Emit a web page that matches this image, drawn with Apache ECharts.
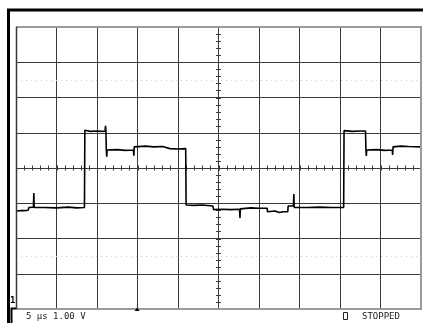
<!DOCTYPE html>
<html>
<head>
<meta charset="utf-8">
<script src="https://cdn.jsdelivr.net/npm/echarts@6/dist/echarts.min.js"></script>
<style>
  html, body { margin: 0; padding: 0; background: #fff; }
  #scope { width: 423px; height: 323px; }
</style>
</head>
<body>
<div id="scope"></div>
<script>
// Horizontal scale: 5 µs per division, 10 divisions
const timeTicks = [-25, -20, -15, -10, -5, 0, 5, 10, 15, 20, 25];
// Vertical scale: 1.00 V per division, 8 divisions
const voltTicks = [-4, -3, -2, -1, 0, 1, 2, 3, 4];
// Dotted reference levels (V)
const refLevels = [2.5, -2.5];
// Channel 1 acquisition: [time µs, volts]
const channel1 = [
  [-25.0, -1.22], [-24.4, -1.21], [-24.2, -1.16], [-24.0, -1.21], [-23.5, -1.20],
  [-23.4, -1.12], [-22.85, -1.11], [-22.8, -0.71], [-22.75, -1.12],
  [-21.5, -1.12], [-20.0, -1.13], [-18.5, -1.11], [-17.5, -1.13], [-16.55, -1.12],
  [-16.5, 1.07], [-15.8, 1.04], [-15.0, 1.05], [-14.3, 1.04], [-14.0, 1.05],
  [-13.95, 1.20], [-13.9, 1.05],
  [-13.85, 0.51], [-13.8, 0.32], [-13.75, 0.51],
  [-12.5, 0.52], [-11.5, 0.50], [-10.5, 0.51], [-10.45, 0.35], [-10.4, 0.60],
  [-9.0, 0.62], [-8.0, 0.60], [-6.9, 0.61], [-6.85, 0.56],
  [-6.0, 0.55], [-5.0, 0.54], [-4.05, 0.55],
  [-4.0, -1.05], [-3.0, -1.06], [-2.0, -1.05], [-0.7, -1.08],
  [-0.6, -1.18], [0.5, -1.17], [1.5, -1.18], [2.6, -1.17], [2.65, -1.42], [2.7, -1.16],
  [4.0, -1.13], [5.0, -1.14], [6.0, -1.14],
  [6.05, -1.24], [7.0, -1.22], [7.5, -1.26], [8.0, -1.24], [8.55, -1.24],
  [8.6, -1.08], [9.25, -1.08], [9.3, -0.74], [9.35, -1.12],
  [11.0, -1.12], [12.5, -1.11], [14.0, -1.12], [15.45, -1.12],
  [15.5, 1.06], [16.5, 1.04], [17.5, 1.05], [18.15, 1.05],
  [18.2, 0.51], [18.25, 0.34], [18.3, 0.51],
  [19.5, 0.52], [20.5, 0.50], [21.45, 0.51], [21.5, 0.37], [21.55, 0.60],
  [22.5, 0.62], [23.5, 0.61], [25.0, 0.60]
];
const timebaseText = '5 \u00b5s 1.00 V';
const statusText = 'STOPPED';
const channelMark = '1';

// Minor graticule ticks on the centre cross: 5 per division
const minorX = [];
for (let i = 0; i <= 50; i++) minorX.push([timeTicks[0] + i * 1]);
const minorY = [];
for (let i = 0; i <= 40; i++) minorY.push([voltTicks[0] + i * 0.2]);

const GRID_DARK = '#3a3a3a';
const chart = echarts.init(document.getElementById('scope'), null, { renderer: 'canvas' });

chart.setOption({
  backgroundColor: '#ffffff',
  animation: false,
  grid: { left: 16, right: 2, top: 27, bottom: 14, show: false },
  xAxis: {
    type: 'value', min: timeTicks[0], max: timeTicks[timeTicks.length - 1], interval: 5,
    axisLine: { show: false }, axisTick: { show: false }, axisLabel: { show: false },
    splitLine: { show: true, lineStyle: { color: GRID_DARK, width: 1 } }
  },
  yAxis: {
    type: 'value', min: voltTicks[0], max: voltTicks[voltTicks.length - 1], interval: 1,
    axisLine: { show: false }, axisTick: { show: false }, axisLabel: { show: false },
    splitLine: { show: true, lineStyle: { color: GRID_DARK, width: 1 } }
  },
  series: [
    {
      type: 'custom', data: minorX, silent: true, z: 3,
      renderItem: function (params, api) {
        const p = api.coord([api.value(0), 0]);
        const x = Math.round(p[0]) + 0.5;
        return { type: 'line', shape: { x1: x, y1: p[1] - 2.5, x2: x, y2: p[1] + 2.5 },
                 style: { stroke: GRID_DARK, lineWidth: 1 } };
      }
    },
    {
      type: 'custom', data: minorY, silent: true, z: 3,
      renderItem: function (params, api) {
        const p = api.coord([0, api.value(0)]);
        const y = Math.round(p[1]) + 0.5;
        return { type: 'line', shape: { x1: p[0] - 2.5, y1: y, x2: p[0] + 2.5, y2: y },
                 style: { stroke: GRID_DARK, lineWidth: 1 } };
      }
    },
    {
      type: 'line', data: [], silent: true,
      markLine: {
        silent: true, symbol: 'none', label: { show: false },
        lineStyle: { color: '#cfcfcf', type: [1, 4], width: 1 },
        data: refLevels.map(v => ({ yAxis: v }))
      }
    },
    {
      name: 'CH1', type: 'line', data: channel1, showSymbol: false, z: 5,
      lineStyle: { color: '#000000', width: 1.6 }
    }
  ]
});

// Frame, border and status annotations placed from the grid's pixel bounds
const tl = chart.convertToPixel({ gridIndex: 0 }, [timeTicks[0], voltTicks[voltTicks.length - 1]]);
const br = chart.convertToPixel({ gridIndex: 0 }, [timeTicks[timeTicks.length - 1], voltTicks[0]]);
const trig = chart.convertToPixel({ gridIndex: 0 }, [-10.05, voltTicks[0]]);

chart.setOption({
  graphic: [
    // outer black bezel
    { type: 'line', z: 100, shape: { x1: 7, y1: 10, x2: 423, y2: 10 }, style: { stroke: '#000', lineWidth: 3 } },
    { type: 'line', z: 100, shape: { x1: 8.5, y1: 9, x2: 8.5, y2: 323 }, style: { stroke: '#000', lineWidth: 3 } },
    // graticule border (grey top / right / bottom)
    { type: 'polyline', z: 90, shape: { points: [[tl[0], tl[1]], [br[0], tl[1]], [br[0], br[1]], [tl[0], br[1]]] },
      style: { stroke: '#9a9a9a', lineWidth: 2, fill: null } },
    { type: 'line', z: 91, shape: { x1: tl[0] + 0.5, y1: tl[1], x2: tl[0] + 0.5, y2: br[1] }, style: { stroke: GRID_DARK, lineWidth: 1.5 } },
    // channel 1 marker
    { type: 'text', z: 100, left: 10, top: 296, style: { text: channelMark, font: 'bold 9px "DejaVu Sans Mono"', fill: '#000' } },
    { type: 'polyline', z: 100, shape: { points: [[16, 308.5], [11.5, 308.5], [11.5, 323]] }, style: { stroke: '#000', lineWidth: 2, fill: null } },
    // trigger marker
    { type: 'polygon', z: 100, shape: { points: [[trig[0] - 2.5, br[1] + 2], [trig[0] + 2.5, br[1] + 2], [trig[0], br[1] - 1.5]] },
      style: { fill: '#000' } },
    // status line
    { type: 'text', z: 100, left: 26, top: 312, style: { text: timebaseText, font: '9px "DejaVu Sans Mono"', fill: '#222' } },
    { type: 'rect', z: 100, shape: { x: 343.5, y: 312.5, width: 4, height: 7 }, style: { stroke: '#222', lineWidth: 1, fill: null } },
    { type: 'text', z: 100, left: 362, top: 312, style: { text: statusText, font: '9px "DejaVu Sans Mono"', fill: '#222' } }
  ]
});
</script>
</body>
</html>
